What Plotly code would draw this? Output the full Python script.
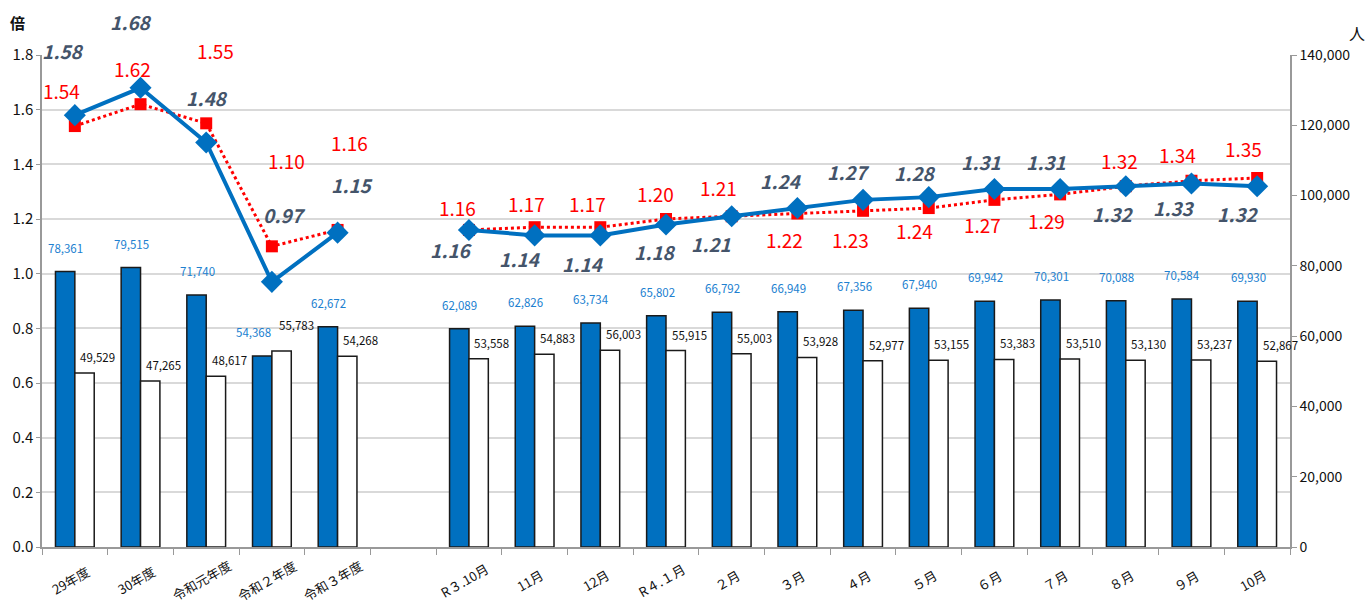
import plotly.graph_objects as go

categories = ["29年度", "30年度", "令和元年度", "令和２年度", "令和３年度", " ",
              "R３.10月", "11月", "12月", "R４.１月", "２月", "３月", "４月",
              "５月", "６月", "７月", "８月", "９月", "10月"]

job_offers = [78361, 79515, 71740, 54368, 62672, None,
              62089, 62826, 63734, 65802, 66792, 66949, 67356,
              67940, 69942, 70301, 70088, 70584, 69930]
job_seekers = [49529, 47265, 48617, 55783, 54268, None,
               53558, 54883, 56003, 55915, 55003, 53928, 52977,
               53155, 53383, 53510, 53130, 53237, 52867]
ratio_blue = [1.58, 1.68, 1.48, 0.97, 1.15, None,
              1.16, 1.14, 1.14, 1.18, 1.21, 1.24, 1.27,
              1.28, 1.31, 1.31, 1.32, 1.33, 1.32]
ratio_red = [1.54, 1.62, 1.55, 1.10, 1.16, None,
             1.16, 1.17, 1.17, 1.20, 1.21, 1.22, 1.23,
             1.24, 1.27, 1.29, 1.32, 1.34, 1.35]

# label offsets in pixels (dx, dy) relative to the data point / bar top
blue_off = [(-12, -65), (-10, -66), (1, -45), (13, -67), (14, -48), None,
            (-17, 20), (-15, 23), (-17, 28), (-11, 27), (-21, 27), (-16, -28), (-15, -28),
            (-14, -25), (-13, -27), (-14, -27), (-13, 27), (-17, 24), (-19, 27)]
red_off = [(-13, -36), (-8, -36), (9, -73), (15, -86), (12, -87), None,
           (-11, -22), (-8, -24), (-13, -24), (-11, -26), (-13, -29), (-13, 26), (-13, 29),
           (-14, 22), (-12, 25), (-14, 26), (-6, -26), (-14, -26), (-14, -30)]
offer_lbl_off = [(-9, -24)] * 19
seeker_lbl_off = [(23, -16)] * 19
offer_lbl_off[3] = (-18, -24)
seeker_lbl_off[3] = (25, -26)

FONT = "Noto Sans CJK JP, sans-serif"
BLUE = "#0070c0"
RED = "#ff0000"

fig = go.Figure()

fig.add_trace(go.Bar(x=categories, y=job_offers, yaxis="y2",
                     marker=dict(color=BLUE, line=dict(color="#1a1a1a", width=1.5)),
                     showlegend=False, hoverinfo="skip"))
fig.add_trace(go.Bar(x=categories, y=job_seekers, yaxis="y2",
                     marker=dict(color="white", line=dict(color="#1a1a1a", width=1.5)),
                     showlegend=False, hoverinfo="skip"))

fig.add_trace(go.Scatter(x=categories, y=ratio_red, yaxis="y", mode="lines+markers",
                         line=dict(color=RED, width=3, dash="dot"),
                         marker=dict(symbol="square", size=12, color=RED),
                         connectgaps=False, showlegend=False, hoverinfo="skip"))
fig.add_trace(go.Scatter(x=categories, y=ratio_blue, yaxis="y", mode="lines+markers",
                         line=dict(color=BLUE, width=4),
                         marker=dict(symbol="diamond", size=17, color=BLUE),
                         connectgaps=False, showlegend=False, hoverinfo="skip"))

annotations = []
for i, c in enumerate(categories):
    if job_offers[i] is not None:
        dx, dy = offer_lbl_off[i]
        annotations.append(dict(x=c, y=job_offers[i], xref="x", yref="y2",
                                text=f"{job_offers[i]:,}", showarrow=False,
                                xanchor="center", yanchor="middle",
                                xshift=dx, yshift=-dy,
                                font=dict(family=FONT, size=11.5, color="#2080d0")))
    if job_seekers[i] is not None:
        dx, dy = seeker_lbl_off[i]
        annotations.append(dict(x=c, y=job_seekers[i], xref="x", yref="y2",
                                text=f"{job_seekers[i]:,}", showarrow=False,
                                xanchor="center", yanchor="middle",
                                xshift=dx, yshift=-dy,
                                font=dict(family=FONT, size=11.5, color="#111111")))
    if ratio_blue[i] is not None:
        dx, dy = blue_off[i]
        annotations.append(dict(x=c, y=ratio_blue[i], xref="x", yref="y",
                                text=f"<b><i>{ratio_blue[i]:.2f}</i></b>", showarrow=False,
                                xanchor="center", yanchor="middle",
                                xshift=dx, yshift=-dy,
                                font=dict(family=FONT, size=19, color="#44546a")))
    if ratio_red[i] is not None:
        dx, dy = red_off[i]
        annotations.append(dict(x=c, y=ratio_red[i], xref="x", yref="y",
                                text=f"{ratio_red[i]:.2f}", showarrow=False,
                                xanchor="center", yanchor="middle",
                                xshift=dx, yshift=-dy,
                                font=dict(family=FONT, size=19, color=RED)))
    if c.strip():
        annotations.append(dict(x=c, y=0, xref="x", yref="paper",
                                text=c, showarrow=False, textangle=-30,
                                xanchor="center", yanchor="middle",
                                xshift=-5, yshift=-33,
                                font=dict(family=FONT, size=13, color="#111111")))

annotations.append(dict(x=-0.02, y=1.067, xref="paper", yref="paper", text="<b>倍</b>",
                        xanchor="center", yanchor="middle",
                        showarrow=False, font=dict(family=FONT, size=15, color="#111111")))
annotations.append(dict(x=1.054, y=1.045, xref="paper", yref="paper", text="人",
                        xanchor="center", yanchor="middle",
                        showarrow=False, font=dict(family=FONT, size=16, color="#111111")))

fig.update_layout(
    width=1371, height=610,
    margin=dict(l=42, r=81, t=55, b=63),
    paper_bgcolor="white", plot_bgcolor="white",
    barmode="group", bargap=0.41, bargroupgap=0,
    font=dict(family=FONT, size=15, color="#111111"),
    xaxis=dict(type="category", categoryorder="array", categoryarray=categories,
               range=[-0.5, len(categories) - 0.5], autorange=False,
               showticklabels=False, showline=True, linecolor="#999999", linewidth=2,
               ticks="outside", tickson="boundaries", ticklen=6, tickcolor="#999999",
               showgrid=False, zeroline=False),
    yaxis=dict(side="left", range=[0, 1.8], dtick=0.2, tickformat=".1f",
               showgrid=True, gridcolor="#d9d9d9", gridwidth=1.5,
               showline=True, linecolor="#999999", linewidth=1.5,
               ticks="outside", ticklen=4, tickcolor="#999999",
               zeroline=False, tickfont=dict(family=FONT, size=15)),
    yaxis2=dict(side="right", overlaying="y", range=[0, 140000], dtick=20000,
                tickformat=",d", showgrid=False,
                showline=True, linecolor="#999999", linewidth=1.5,
                ticks="outside", ticklen=5, tickcolor="#999999",
                zeroline=False, tickfont=dict(family=FONT, size=14)),
    annotations=annotations,
)

fig.write_html("out.html", config={"displayModeBar": False},
               post_script="document.body.style.margin='0';")
